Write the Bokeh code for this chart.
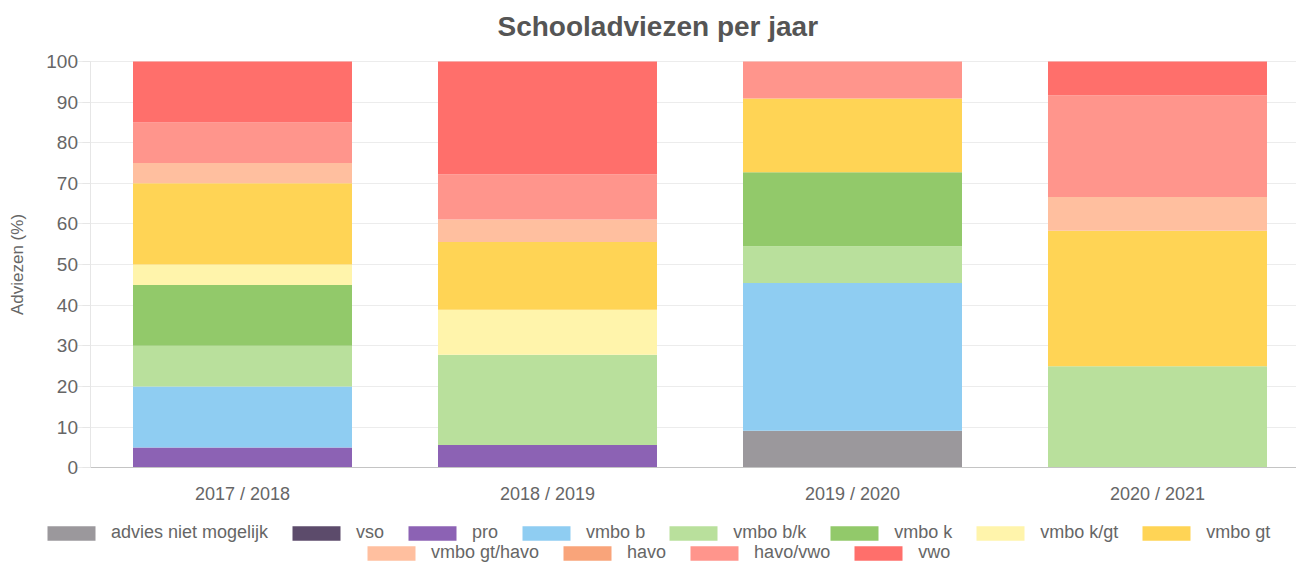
from bokeh.plotting import figure
from bokeh.models import ColumnDataSource, Range1d, FixedTicker, Legend, LegendItem
from bokeh.embed import file_html
from bokeh.resources import INLINE

years = ["2017 / 2018", "2018 / 2019", "2019 / 2020", "2020 / 2021"]

series_names = ["advies niet mogelijk", "vso", "pro", "vmbo b", "vmbo b/k", "vmbo k",
                "vmbo k/gt", "vmbo gt", "vmbo gt/havo", "havo", "havo/vwo", "vwo"]

advies_niet_mogelijk = [0, 0, 9.09, 0]
vso = [0, 0, 0, 0]
pro = [5, 5.56, 0, 0]
vmbo_b = [15, 0, 36.36, 0]
vmbo_bk = [10, 22.22, 9.09, 25]
vmbo_k = [15, 0, 18.18, 0]
vmbo_kgt = [5, 11.11, 0, 0]
vmbo_gt = [20, 16.67, 18.18, 33.33]
vmbo_gt_havo = [5, 5.56, 0, 8.33]
havo = [0, 0, 0, 0]
havo_vwo = [10, 11.11, 9.09, 25]
vwo = [15, 27.78, 0, 8.34]

y_ticks = list(range(0, 101, 10))

colors = ["#9b989c", "#5c4b6b", "#8c62b4", "#8fcdf2", "#b9e09c", "#92c96a",
          "#fff4ab", "#ffd455", "#ffbf9f", "#f9a47a", "#ff958c", "#ff6f6b"]

# ---- layout (pixels) ----
W, H = 1296, 563
TOP_PANEL = 50          # title panel height
Y0_PX, Y100_PX = 467, 60
X_FIRST_PX, X_STEP_PX = 242, 305
px_per_unit = (Y0_PX - Y100_PX) / 100.0
y_end = (Y0_PX - TOP_PANEL) / px_per_unit
y_start = -(H - Y0_PX) / px_per_unit
x_start = -X_FIRST_PX / X_STEP_PX
x_end = (W - X_FIRST_PX) / X_STEP_PX

keys = ["s%d" % i for i in range(len(series_names))]
data = {"x": list(range(len(years)))}
for k, vals in zip(keys, [advies_niet_mogelijk, vso, pro, vmbo_b, vmbo_bk, vmbo_k,
                          vmbo_kgt, vmbo_gt, vmbo_gt_havo, havo, havo_vwo, vwo]):
    data[k] = vals
source = ColumnDataSource(data)

FONT = "Liberation Sans"
TXT = "#666666"

p = figure(x_range=Range1d(x_start, x_end), y_range=Range1d(y_start, y_end),
           width=W, height=H, output_backend="svg", toolbar_location=None,
           title="Schooladviezen per jaar",
           min_border_left=0, min_border_right=0, min_border_top=0, min_border_bottom=0)

renderers = p.vbar_stack(keys, x="x", width=0.718, color=colors, source=source,
                         line_width=0)

p.title.align = "left"
p.title.offset = 497
p.title.standoff = 18
p.title.vertical_align = "middle"
p.title.text_font = FONT
p.title.text_font_size = "28px"
p.title.text_font_style = "bold"
p.title.text_color = "#555555"

p.outline_line_color = None
p.background_fill_color = "white"
p.xgrid.grid_line_color = None
p.ygrid.grid_line_color = "#ececec"
if "cross_bounds" in p.ygrid[0].properties():
    p.ygrid.cross_bounds = (-0.54, x_end)

# y axis, fixed at the left category boundary
p.yaxis.fixed_location = -0.5
p.yaxis.bounds = (0, 100)
p.yaxis.ticker = FixedTicker(ticks=y_ticks)
p.yaxis.axis_line_color = "#e6e6e6"
p.yaxis.major_tick_line_color = "#e6e6e6"
p.yaxis.major_tick_out = 8
p.yaxis.major_tick_in = 0
p.yaxis.minor_tick_line_color = None
p.yaxis.major_label_standoff = 4
p.yaxis.major_label_text_font = FONT
p.yaxis.major_label_text_font_size = "19px"
p.yaxis.major_label_text_color = TXT
p.yaxis.axis_label = "Adviezen (%)"
p.yaxis.axis_label_text_font = FONT
p.yaxis.axis_label_text_font_size = "17px"
p.yaxis.axis_label_text_font_style = "normal"
p.yaxis.axis_label_text_color = TXT
p.yaxis.axis_label_standoff = 17

# x axis, fixed at y = 0
p.xaxis.fixed_location = 0
p.xaxis.bounds = (-0.5, len(years) - 0.5)
p.xaxis.ticker = FixedTicker(ticks=list(range(len(years))))
p.xaxis.major_label_overrides = {i: y for i, y in enumerate(years)}
p.xaxis.axis_line_color = "#c4c4c4"
p.xaxis.major_tick_line_color = None
p.xaxis.minor_tick_line_color = None
p.xaxis.major_label_standoff = 10
p.xaxis.major_label_text_font = FONT
p.xaxis.major_label_text_font_size = "18px"
p.xaxis.major_label_text_color = TXT

items = [LegendItem(label=n, renderers=[r]) for n, r in zip(series_names, renderers)]


def make_legend(its, loc):
    return Legend(items=its, orientation="horizontal", location=loc,
                  glyph_width=60, glyph_height=18, label_standoff=10, spacing=18,
                  padding=0, margin=0, border_line_color=None, background_fill_alpha=0,
                  label_text_font=FONT, label_text_font_size="18px", label_text_color=TXT,
                  label_height=18)


p.add_layout(make_legend(items[:8], (41, 20)))
p.add_layout(make_legend(items[8:], (361, 0)))

open("out.html", "w").write(file_html(p, INLINE))
